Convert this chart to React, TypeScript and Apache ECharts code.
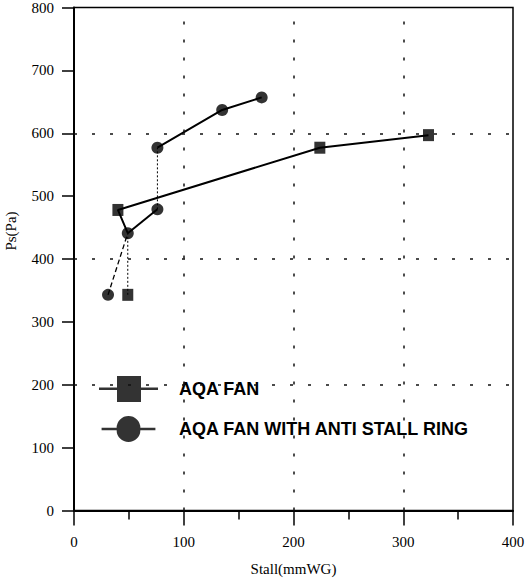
import React, { useEffect, useRef } from "react";
import * as echarts from "echarts";

const fanX = [49, 49, 40, 224, 323];
const fanY = [343, 441, 478, 577, 597];
const ringX = [31, 49, 76, 76, 135, 171];
const ringY = [343, 441, 479, 577, 637, 657];
const xGridValues = [100, 200, 300];
const yGridValues = [200, 400, 600];
const FAN = "AQA FAN";
const RING = "AQA FAN WITH ANTI STALL RING";

const pts = (xs: number[], ys: number[], a: number, b: number) =>
  xs.slice(a, b + 1).map((x, i) => [x, ys[a + i]]);

export default function App() {
  const ref = useRef<HTMLDivElement>(null);
  useEffect(() => {
    const chart = echarts.init(ref.current!, undefined, { renderer: "svg" });
    const serif = "Liberation Serif";
    const seg = (data: number[][], type: any, width: number) => ({
      type: "line",
      data,
      symbol: "none",
      silent: true,
      lineStyle: { color: "#000", width, type },
      z: 2,
    });
    chart.setOption({
      animation: false,
      backgroundColor: "#fff",
      grid: {
        left: 74,
        right: 19,
        top: 7.5,
        bottom: 69.5,
        show: true,
        borderColor: "#000",
        borderWidth: 1.5,
        outerBoundsMode: "none",
      },
      legend: {
        orient: "vertical",
        left: 78,
        top: 364,
        padding: [12, 14, 19, 21],
        backgroundColor: "#fff",
        itemGap: 14,
        itemWidth: 59,
        itemHeight: 26,
        selectedMode: false,
        z: 5,
        textStyle: {
          fontFamily: "'Liberation Sans', Arial, sans-serif",
          fontWeight: "bold",
          fontSize: 18,
          color: "#000",
          padding: [0, 0, 0, 16],
        },
        data: [
          {
            name: FAN,
            icon: "path://M0,11.5 H18 V0 H42 V11.5 H59 V14 H42 V26 H18 V14 H0 Z",
          },
          {
            name: RING,
            icon:
              "path://M0,11.5 H16.5 A13,13 0 0,1 42.5,11.5 H59 V14 H42.5 A13,13 0 0,1 16.5,14 H0 Z",
          },
        ],
      },
      xAxis: {
        type: "value",
        min: 0,
        max: 400,
        interval: 100,
        name: "Stall(mmWG)",
        nameLocation: "middle",
        nameGap: 51,
        nameTextStyle: { fontFamily: serif, fontSize: 15, color: "#000" },
        axisLine: { show: true, lineStyle: { color: "#000", width: 2 } },
        axisTick: { show: true, length: 15, lineStyle: { color: "#000", width: 1.5 } },
        minorTick: { show: true, splitNumber: 2, length: 9, lineStyle: { color: "#000", width: 1.5 } },
        axisLabel: { fontFamily: serif, fontSize: 15, color: "#000", margin: 24 },
        splitLine: { show: false },
      },
      yAxis: {
        type: "value",
        min: 0,
        max: 800,
        interval: 100,
        name: "Ps(Pa)",
        nameLocation: "middle",
        nameGap: 56,
        nameTextStyle: { fontFamily: serif, fontSize: 15, color: "#000", padding: [0, 0, 0, 56] },
        axisLine: { show: true, lineStyle: { color: "#000", width: 2 } },
        axisTick: { show: true, length: 12, lineStyle: { color: "#000", width: 1.5 } },
        axisLabel: { fontFamily: serif, fontSize: 15, color: "#000", margin: 20 },
        splitLine: { show: false },
      },
      series: [
        {
          type: "line",
          name: "grid",
          data: [],
          silent: true,
          markLine: {
            silent: true,
            symbol: "none",
            label: { show: false },
            lineStyle: { color: "#111", type: [3, 15], width: 1.5 },
            data: [
              ...xGridValues.map((v) => ({ xAxis: v })),
              ...yGridValues.map((v) => ({ yAxis: v })),
            ],
          },
        },
        seg(pts(fanX, fanY, 0, 1), [2, 2], 1),
        seg(pts(fanX, fanY, 1, 4), "solid", 2),
        seg(pts(ringX, ringY, 0, 1), [5, 3], 1.3),
        seg(pts(ringX, ringY, 1, 2), "solid", 2),
        seg(pts(ringX, ringY, 2, 3), [2, 2], 1),
        seg(pts(ringX, ringY, 3, 5), "solid", 2),
        {
          type: "scatter",
          name: FAN,
          data: fanX.map((x, i) => [x, fanY[i]]).filter((_, i) => i !== 1),
          symbol: "rect",
          symbolSize: [11, 12],
          itemStyle: { color: "#000" },
          z: 3,
        },
        {
          type: "scatter",
          name: RING,
          data: ringX.map((x, i) => [x, ringY[i]]),
          symbol: "circle",
          symbolSize: 12,
          itemStyle: { color: "#000" },
          z: 3,
        },
      ],
    });
    return () => chart.dispose();
  }, []);
  return (
    <div
      ref={ref}
      style={{ position: "absolute", left: 0, top: 0, width: 532, height: 580 }}
    />
  );
}
